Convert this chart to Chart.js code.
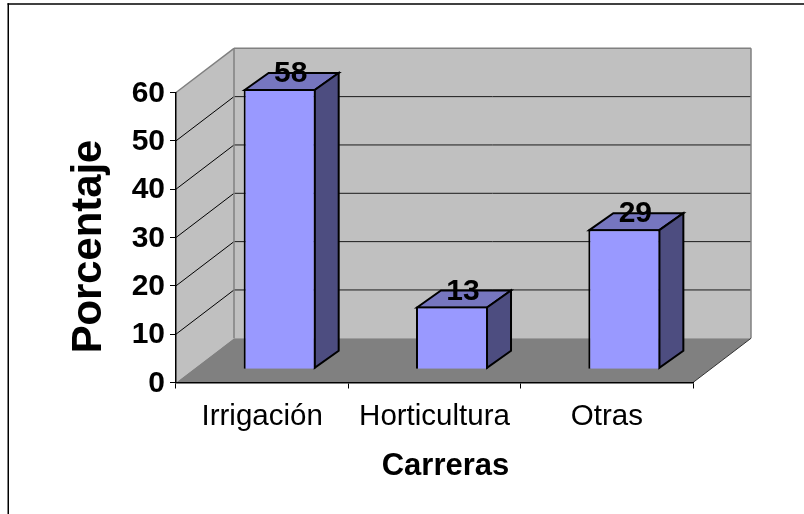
<!DOCTYPE html>
<html><head><meta charset="utf-8">
<script src="https://cdn.jsdelivr.net/npm/chart.js@4"></script>
<style>html,body{margin:0;padding:0;background:#fff}canvas{display:block}</style>
</head><body>
<canvas id="c" width="804" height="514"></canvas>
<script>
const categories = ['Irrigación', 'Horticultura', 'Otras'];
const values = [58, 13, 29];
const yTicks = [0, 10, 20, 30, 40, 50, 60];
const xTitle = 'Carreras';
const yTitle = 'Porcentaje';

const FONT = '"Liberation Sans", Arial, sans-serif';
const DEPTH = {x: 58, y: -44.2};
const SHIFT = {x: 17.5, y: -13.2};
const BAR = {x: 24, y: -17};
const C = {wall:'#C0C0C0', floor:'#808080', edge:'#808080', bar:'#9999FF', side:'#4D4D80', top:'#7676BF'};

function poly(ctx, pts, fill, stroke, lw){
  ctx.beginPath();
  pts.forEach((p,i)=> i?ctx.lineTo(p[0],p[1]):ctx.moveTo(p[0],p[1]));
  ctx.closePath();
  if(fill){ctx.fillStyle=fill;ctx.fill();}
  if(stroke){ctx.strokeStyle=stroke;ctx.lineWidth=lw||1;ctx.stroke();}
}
function line(ctx,x1,y1,x2,y2,col,lw){
  ctx.beginPath();ctx.moveTo(x1,y1);ctx.lineTo(x2,y2);ctx.strokeStyle=col;ctx.lineWidth=lw||1;ctx.stroke();
}
const scene = {
  id:'scene',
  beforeDraw(chart){
    const {ctx,chartArea:a,scales:{y}} = chart;
    const d=DEPTH;
    ctx.save();
    ctx.lineJoin='miter';
    // frame: only the top and left edges are inside the picture
    line(ctx,7.5,4,804,4,'#000',1.5);
    line(ctx,8.25,3.25,8.25,514,'#000',1.5);
    // walls and floor
    poly(ctx,[[a.left,a.top],[a.left+d.x,a.top+d.y],[a.left+d.x,a.bottom+d.y],[a.left,a.bottom]],C.wall);
    poly(ctx,[[a.left+d.x,a.top+d.y],[a.right+d.x,a.top+d.y],[a.right+d.x,a.bottom+d.y],[a.left+d.x,a.bottom+d.y]],C.wall);
    poly(ctx,[[a.left,a.bottom],[a.left+d.x,a.bottom+d.y],[a.right+d.x,a.bottom+d.y],[a.right,a.bottom]],C.floor);
    // gridlines
    yTicks.forEach(v=>{
      if(v===0||v===60) return;
      const p=y.getPixelForValue(v);
      line(ctx,a.left,p,a.left+d.x,p+d.y,'#000');
      line(ctx,a.left+d.x,p+d.y,a.right+d.x,p+d.y,'#1a1a1a');
    });
    // edges
    line(ctx,a.left,a.top,a.left+d.x,a.top+d.y,C.edge,1.5);
    line(ctx,a.left+d.x,a.top+d.y,a.right+d.x,a.top+d.y,C.edge,1.5);
    line(ctx,a.left+d.x,a.top+d.y,a.left+d.x,a.bottom+d.y,C.edge,1.5);
    line(ctx,a.right+d.x,a.top+d.y,a.right+d.x,a.bottom+d.y,C.edge,1.5);
    line(ctx,a.right,a.bottom,a.right+d.x,a.bottom+d.y,'#333',1);
    ctx.restore();
  },
  beforeDatasetsDraw(chart){
    const {ctx} = chart;
    ctx.save();
    ctx.translate(SHIFT.x,SHIFT.y);
    ctx.lineJoin='miter';
    chart.getDatasetMeta(0).data.forEach(b=>{
      const l=b.x-b.width/2+1,r=b.x+b.width/2-1,t=b.y+1,bt=b.base-1;
      poly(ctx,[[l,t],[l+BAR.x,t+BAR.y],[r+BAR.x,t+BAR.y],[r,t]],C.top,'#000',2);
      poly(ctx,[[r,t],[r+BAR.x,t+BAR.y],[r+BAR.x,bt+BAR.y],[r,bt]],C.side,'#000',2);
    });
  },
  afterDatasetsDraw(chart){
    const {ctx} = chart;
    ctx.restore();
    ctx.save();
    ctx.fillStyle='#000';
    ctx.textAlign='center';ctx.textBaseline='middle';
    ctx.font='bold 30px '+FONT;
    chart.getDatasetMeta(0).data.forEach((b,i)=>{
      ctx.fillText(String(values[i]), b.x+SHIFT.x+BAR.x/2-1, b.y+SHIFT.y+BAR.y/2-6.5);
    });
    ctx.restore();
  },
  afterDraw(chart){
    const {ctx,chartArea:a} = chart;
    ctx.save();
    ctx.fillStyle='#000';ctx.textAlign='center';ctx.textBaseline='middle';
    ctx.font='bold 31px '+FONT;
    ctx.fillText(xTitle,(a.left+a.right)/2+11,466);
    ctx.translate(89.5,(a.top+a.bottom)/2+9);
    ctx.rotate(-Math.PI/2);
    ctx.font='bold 41.8px '+FONT;
    ctx.fillText(yTitle,0,0);
    ctx.restore();
  }
};
new Chart(document.getElementById('c'),{
  type:'bar',
  data:{labels:categories,datasets:[{data:values,backgroundColor:C.bar,borderColor:'#000',borderWidth:2,clip:false,barPercentage:0.418,categoryPercentage:1}]},
  options:{
    responsive:false,animation:false,
    layout:{padding:{top:92.5,right:111,left:0,bottom:0}},
    plugins:{legend:{display:false},tooltip:{enabled:false}},
    scales:{
      x:{
        afterFit(s){s.height=131.5;},
        grid:{drawOnChartArea:false,drawTicks:true,tickLength:6,tickColor:'#000',color:'#000'},
        border:{color:'#000',width:1.5},
        ticks:{color:'#000',font:{family:FONT,size:29.5},padding:11,maxRotation:0,autoSkip:false}
      },
      y:{
        min:0,max:60,
        afterFit(s){s.width=176;},
        afterBuildTicks(s){s.ticks=yTicks.map(v=>({value:v}));},
        grid:{drawOnChartArea:false,drawTicks:true,tickLength:6,tickColor:'#000',color:'#000'},
        border:{color:'#000',width:1.5},
        ticks:{color:'#000',font:{family:FONT,size:30,weight:'bold'},padding:5,labelOffset:1}
      }
    }
  },
  plugins:[scene]
});
</script>
</body></html>
